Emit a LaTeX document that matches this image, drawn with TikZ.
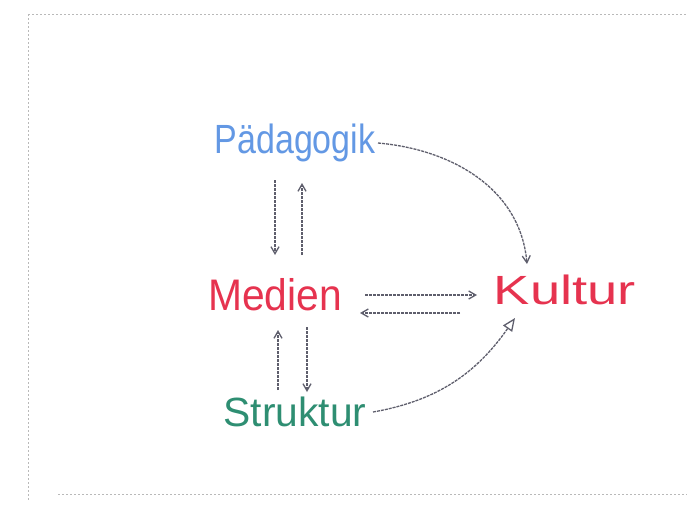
\documentclass[tikz,border=0pt]{standalone}
\usepackage{fontspec}
\setmainfont{Liberation Sans}
\usetikzlibrary{arrows.meta,calc}
\definecolor{pedblue}{HTML}{6398E4}
\definecolor{medred}{HTML}{E6334F}
\definecolor{strgreen}{HTML}{2E8E72}
\definecolor{pencil}{HTML}{5E5E6C}
\tikzset{
  word/.style={font=\fontsize{34}{36}\selectfont, inner sep=2pt},
  sketch/.style={draw=pencil, line width=1.3pt, dash pattern=on 3pt off 1pt,
    -{Straight Barb[length=7pt,width=8pt]}},
  frame/.style={draw=gray!55, line width=0.8pt, dash pattern=on 1.5pt off 2.5pt}
}
\begin{document}
\begin{tikzpicture}[x=1pt,y=-1pt]
\useasboundingbox (0,0) rectangle (687,507);
% paper edge
\coordinate (tl) at (28,14);
\coordinate (tr) at (687,14);
\coordinate (bl) at (28,500);
\coordinate (br) at (687,494);
\draw[frame] (tl) -- (tr);
\draw[frame] (tl) -- (bl);
\draw[frame] ($(bl)+(30,-6)$) -- (br);

% terms
\node[word, text=pedblue] (ped) at (295,143) {\scalebox{1}[1.2]{Pädagogik}};
\node[word, text=medred] (med) at (275,295) {\scalebox{1.2}[1.3]{Medien}};
\node[word, text=medred] (kul) at (565,290) {\scalebox{1.6}[1.2]{Kultur}};
\node[word, text=strgreen] (str) at (295,412) {\scalebox{1.2}[1.2]{Struktur}};

% Pädagogik <-> Medien
\draw[sketch] ($(ped.center)+(-20,37)$) -- ($(med.center)+(0,-40)$);
\draw[sketch] ($(med.center)+(27,-40)$) -- ($(ped.center)+(7,40)$);
% Medien <-> Struktur
\draw[sketch] ($(str.center)+(-17,-22)$) -- ($(med.center)+(3,35)$);
\draw[sketch] ($(med.center)+(32,32)$) -- ($(str.center)+(12,-20)$);
% Medien <-> Kultur
\draw[sketch] ($(med.center)+(90,0)$) -- ($(kul.center)+(-88,5)$);
\draw[sketch] ($(kul.center)+(-105,23)$) -- ($(med.center)+(85,18)$);
% Pädagogik -> Kultur
\draw[sketch] ($(ped.center)+(83,0)$) to[out=-5,in=95] ($(kul.center)+(-38,-26)$);
% Struktur -> Kultur
\draw[sketch, -{Triangle[open,length=13pt,width=11pt]}] ($(str.center)+(78,0)$) to[out=10,in=-125] ($(kul.center)+(-50,28)$);
\end{tikzpicture}
\end{document}
